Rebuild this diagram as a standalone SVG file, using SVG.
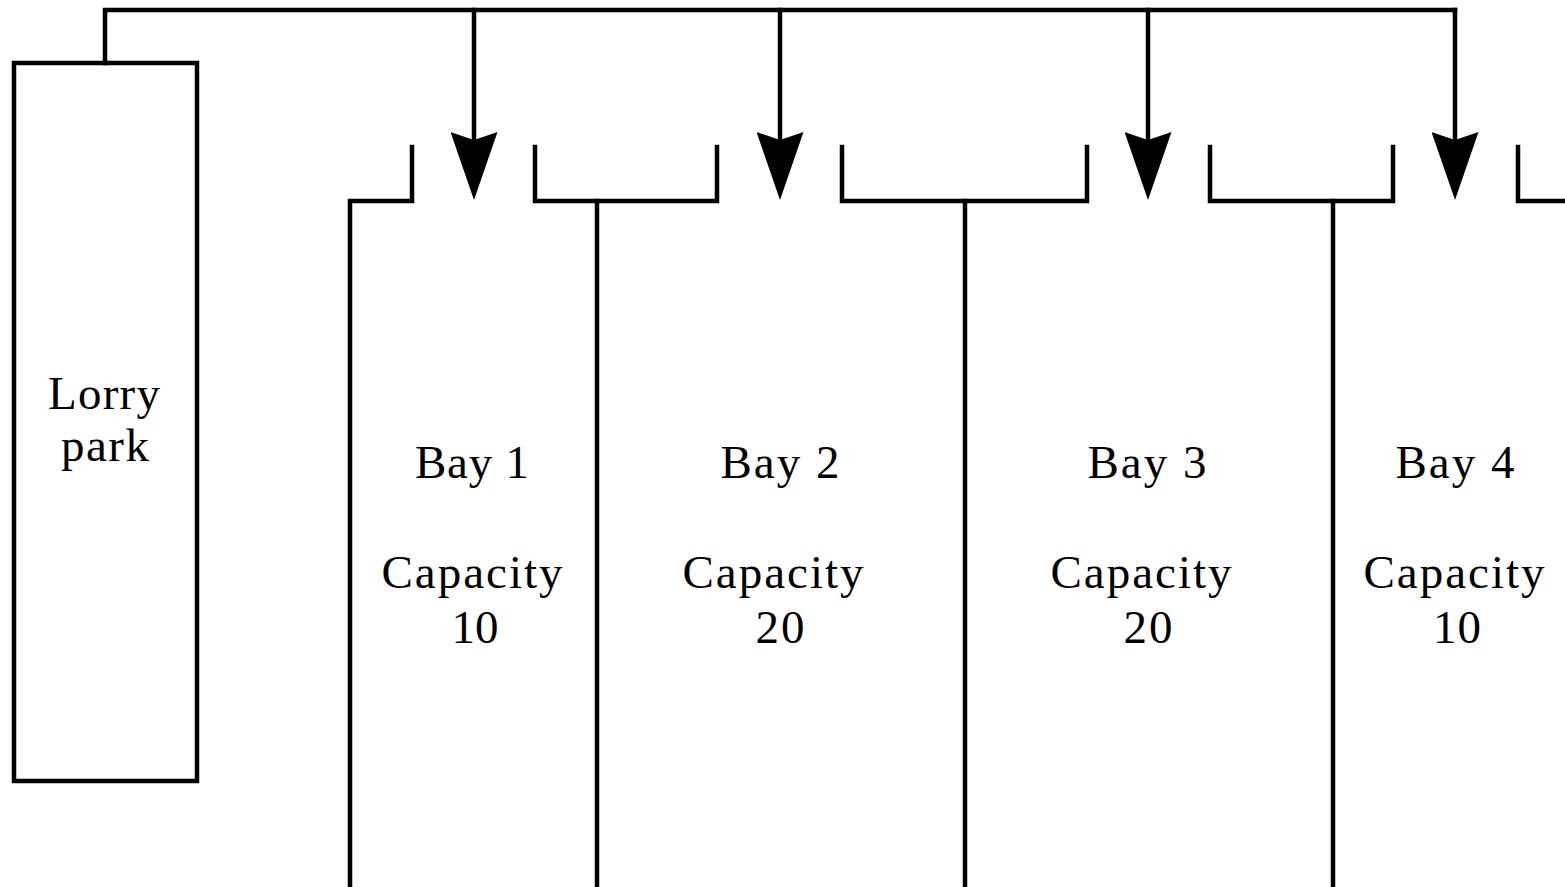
<svg xmlns="http://www.w3.org/2000/svg" width="1565" height="887" viewBox="0 0 1565 887">
<style>
  .ln{fill:none;stroke:#000;stroke-width:4.5;stroke-linecap:square;stroke-linejoin:miter}
  .tx{font-family:"Liberation Serif","Times New Roman",serif;font-size:47px;fill:#000;text-anchor:middle}
</style>
<defs>
  <marker id="ah" markerUnits="userSpaceOnUse" viewBox="0 0 68 47" refX="8" refY="23.5" markerWidth="68" markerHeight="47" orient="auto">
    <path d="M0,0 L68,23.5 L0,47 L8,23.5 Z" fill="#000"/>
  </marker>
</defs>
<rect width="1565" height="887" fill="#fff"/>
<g id="lorry-park">
  <rect class="ln" x="14" y="63" width="183" height="718"/>
  <text class="tx" x="104" y="409" textLength="112" lengthAdjust="spacing">Lorry</text>
  <text class="tx" x="105" y="461" textLength="88" lengthAdjust="spacing">park</text>
</g>
<g id="bay-walls">
  <path class="ln" d="M350,887 V201 H412 V147 M535,147 V201 H717 V147 M842,147 V201 H1087 V147 M1210,147 V201 H1393 V147 M1518,147 V201 H1567"/>
  <path class="ln" d="M597,201 V887 M965,201 V887 M1333,201 V887"/>
</g>
<g id="bay1">
  <text class="tx" x="472" y="478" textLength="114" lengthAdjust="spacing">Bay 1</text>
  <text class="tx" x="472" y="588" textLength="181" lengthAdjust="spacing">Capacity</text>
  <text class="tx" x="475" y="643" textLength="47" lengthAdjust="spacing">10</text>
</g>
<g id="bay2">
  <text class="tx" x="780" y="478" textLength="119" lengthAdjust="spacing">Bay 2</text>
  <text class="tx" x="773" y="588" textLength="181" lengthAdjust="spacing">Capacity</text>
  <text class="tx" x="780" y="643" textLength="49" lengthAdjust="spacing">20</text>
</g>
<g id="bay3">
  <text class="tx" x="1147" y="478" textLength="119" lengthAdjust="spacing">Bay 3</text>
  <text class="tx" x="1141" y="588" textLength="181" lengthAdjust="spacing">Capacity</text>
  <text class="tx" x="1148" y="643" textLength="49" lengthAdjust="spacing">20</text>
</g>
<g id="bay4">
  <text class="tx" x="1455" y="478" textLength="119" lengthAdjust="spacing">Bay 4</text>
  <text class="tx" x="1454" y="588" textLength="181" lengthAdjust="spacing">Capacity</text>
  <text class="tx" x="1457" y="643" textLength="48" lengthAdjust="spacing">10</text>
</g>
<g id="connectors">
  <path class="ln" d="M105,63 V10 H1455"/>
  <path class="ln" d="M474,10 V140" marker-end="url(#ah)"/>
  <path class="ln" d="M780,10 V140" marker-end="url(#ah)"/>
  <path class="ln" d="M1148,10 V140" marker-end="url(#ah)"/>
  <path class="ln" d="M1455,10 V140" marker-end="url(#ah)"/>
</g>
</svg>
